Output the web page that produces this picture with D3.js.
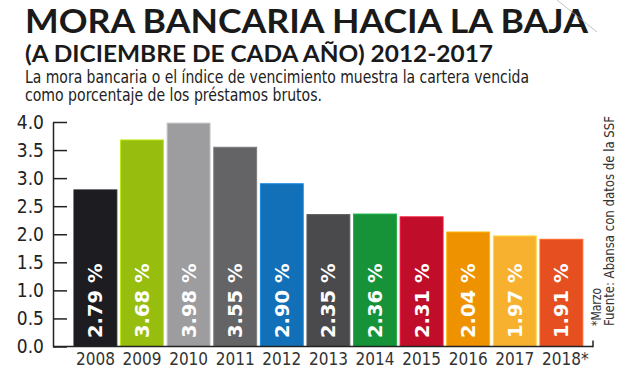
<!DOCTYPE html>
<meta charset="utf-8">
<style>
body { margin: 0; background: #fff; }
.narrow { font-family: 'Liberation Sans Narrow', 'DejaVu Sans Condensed', 'Roboto Condensed', Roboto, sans-serif; font-stretch: condensed; }
.axis text { fill: #222; }
.axis path, .axis line { stroke: #222; }
</style>
<body>
<script src="https://cdn.jsdelivr.net/npm/d3@7"></script>
<script>

var years = ["2008", "2009", "2010", "2011", "2012", "2013", "2014", "2015", "2016", "2017", "2018"];
var yearLabels = ["2008", "2009", "2010", "2011", "2012", "2013", "2014", "2015", "2016", "2017", "2018*"];
var values = [2.79, 3.68, 3.98, 3.55, 2.90, 2.35, 2.36, 2.31, 2.04, 1.97, 1.91];
var valueLabels = ["2.79 %", "3.68 %", "3.98 %", "3.55 %", "2.90 %", "2.35 %", "2.36 %", "2.31 %", "2.04 %", "1.97 %", "1.91 %"];
var barColors = ["#1d1c20", "#97bd0f", "#9d9d9f", "#646466", "#1170b8", "#4a4a4c",
                 "#169238", "#c00d2a", "#ef9200", "#f7b12f", "#e65020"];
var yTicks = [0, 0.5, 1, 1.5, 2, 2.5, 3, 3.5, 4];

var width = 627, height = 372;

var svg = d3.select("body").append("svg")
    .attr("width", width)
    .attr("height", height);

// titles
svg.append("text")
    .attr("x", 25).attr("y", 33)
    .attr("textLength", 563).attr("lengthAdjust", "spacingAndGlyphs")
    .style("font", "bold 32px Lato, 'Open Sans', sans-serif")
    .style("fill", "#1a1a1a")
    .text("MORA BANCARIA HACIA LA BAJA");

svg.append("text")
    .attr("x", 25).attr("y", 62)
    .attr("textLength", 468).attr("lengthAdjust", "spacingAndGlyphs")
    .style("font", "bold 22px Lato, 'Open Sans', sans-serif")
    .style("fill", "#1a1a1a")
    .text("(A DICIEMBRE DE CADA AÑO) 2012-2017");

svg.append("text")
    .attr("class", "narrow")
    .attr("x", 25).attr("y", 83)
    .attr("textLength", 504).attr("lengthAdjust", "spacingAndGlyphs")
    .style("font-size", "18.5px").style("fill", "#222")
    .text("La mora bancaria o el índice de vencimiento muestra la cartera vencida");

svg.append("text")
    .attr("class", "narrow")
    .attr("x", 25).attr("y", 101)
    .attr("textLength", 297).attr("lengthAdjust", "spacingAndGlyphs")
    .style("font-size", "18.5px").style("fill", "#222")
    .text("como porcentaje de los préstamos brutos.");

// decorative thin line top right
svg.append("line")
    .attr("x1", 557).attr("y1", 0).attr("x2", 597).attr("y2", 32)
    .style("stroke", "#aaa").style("stroke-width", 0.7);

var x = d3.scaleBand()
    .domain(years)
    .range([72.1, 584.7])
    .paddingInner(0.08)
    .paddingOuter(0.04);

var y = d3.scaleLinear()
    .domain([0, 4])
    .range([346.5, 122]);

var axisX0 = 53;

// y axis
var yAxis = d3.axisLeft(y)
    .tickValues(yTicks)
    .tickFormat(d3.format(".1f"))
    .tickSize(-14)
    .tickSizeOuter(0)
    .tickPadding(9);

var gy = svg.append("g")
    .attr("class", "axis narrow")
    .attr("transform", "translate(" + axisX0 + ",0)")
    .call(yAxis);
gy.selectAll("text").style("font-size", "19px").style("font-family", null);
gy.selectAll("line").style("stroke-width", 1.5);
gy.select(".domain").style("stroke-width", 1.5);

// bars
svg.append("g")
    .selectAll("rect")
    .data(values)
    .enter()
    .append("rect")
    .attr("x", function(d, i) { return x(years[i]); })
    .attr("y", function(d) { return y(d); })
    .attr("width", x.bandwidth())
    .attr("height", function(d) { return y(0) - y(d); })
    .style("fill", function(d, i) { return barColors[i]; })
    .style("stroke", function(d, i) { return d3.color(barColors[i]).brighter(0.6); })
    .style("stroke-width", 1);

// value labels
svg.append("g")
    .selectAll("text")
    .data(valueLabels)
    .enter()
    .append("text")
    .attr("transform", function(d, i) {
      return "translate(" + (x(years[i]) + x.bandwidth() / 2) + ",338) rotate(-90)";
    })
    .attr("dy", "0.36em")
    .style("font", "bold 19.5px 'DejaVu Sans', sans-serif")
    .style("fill", "#fff")
    .text(function(d) { return d; });

// x axis
svg.append("line")
    .attr("x1", axisX0).attr("x2", 593)
    .attr("y1", y(0)).attr("y2", y(0))
    .style("stroke", "#222").style("stroke-width", 1.5);
svg.append("line")
    .attr("x1", 593).attr("x2", 593)
    .attr("y1", y(0) + 0.75).attr("y2", y(0) - 6)
    .style("stroke", "#222").style("stroke-width", 1.5);

var xAxis = d3.axisBottom(x)
    .tickSize(0)
    .tickPadding(6)
    .tickFormat(function(d, i) { return yearLabels[i]; });

var gx = svg.append("g")
    .attr("class", "axis narrow")
    .attr("transform", "translate(0," + y(0) + ")")
    .call(xAxis);
gx.select(".domain").remove();
gx.selectAll("text")
    .style("font-size", "17px").style("font-family", null).style("fill", "#333")
    .attr("dx", function(d, i) { return i === years.length - 1 ? 4 : 0; });

// source note
svg.append("text")
    .attr("class", "narrow")
    .attr("transform", "translate(601,326) rotate(-90)")
    .attr("textLength", 38).attr("lengthAdjust", "spacingAndGlyphs")
    .style("font-size", "14px").style("fill", "#333")
    .text("*Marzo");

svg.append("text")
    .attr("class", "narrow")
    .attr("transform", "translate(614,326) rotate(-90)")
    .attr("textLength", 210).attr("lengthAdjust", "spacingAndGlyphs")
    .style("font-size", "14px").style("fill", "#333")
    .text("Fuente: Abansa con datos de la SSF");

</script>
